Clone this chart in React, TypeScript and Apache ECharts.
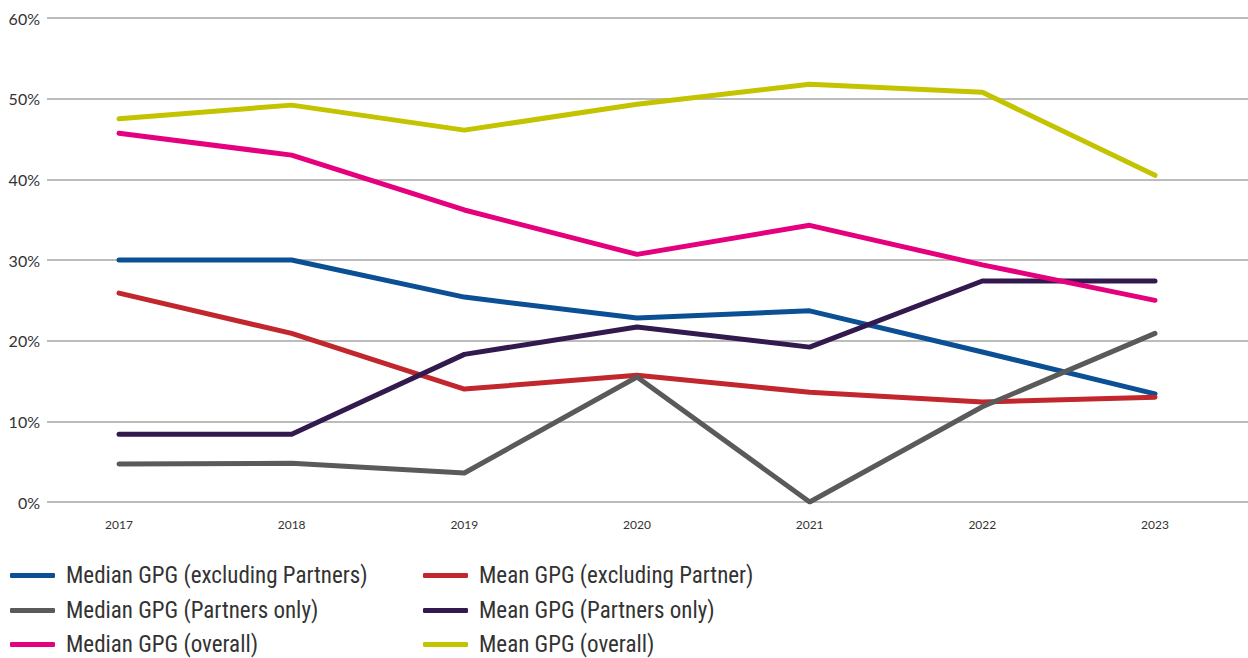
import React, { useEffect, useRef } from "react";
import * as echarts from "echarts";

const years = ["2017", "2018", "2019", "2020", "2021", "2022", "2023"];
const medianExcl = [30.0, 30.0, 25.4, 22.8, 23.7, 18.6, 13.4];
const meanExcl = [25.9, 20.9, 14.0, 15.7, 13.6, 12.4, 13.0];
const medianPartners = [4.7, 4.8, 3.6, 15.5, 0.0, 11.8, 20.9];
const meanPartners = [8.4, 8.4, 18.3, 21.7, 19.2, 27.4, 27.4];
const medianOverall = [45.7, 43.0, 36.2, 30.7, 34.3, 29.4, 25.0];
const meanOverall = [47.5, 49.2, 46.1, 49.3, 51.8, 50.8, 40.5];

const seriesDefs = [
  { name: "Median GPG (excluding Partners)", data: medianExcl, color: "#0b4f94" },
  { name: "Mean GPG (excluding Partner)", data: meanExcl, color: "#c1272d" },
  { name: "Median GPG (Partners only)", data: medianPartners, color: "#5a5a5a" },
  { name: "Mean GPG (Partners only)", data: meanPartners, color: "#321a4f" },
  { name: "Median GPG (overall)", data: medianOverall, color: "#e5007d" },
  { name: "Mean GPG (overall)", data: meanOverall, color: "#c3c300" },
];

const legendFont = "'Liberation Sans Narrow', 'Roboto Condensed', 'Open Sans', sans-serif";
const axisFont = "Lato, 'Noto Sans', sans-serif";

export default function App() {
  const ref = useRef<HTMLDivElement>(null);
  useEffect(() => {
    document.body.style.margin = "0";
    if (!ref.current) return;
    const chart = echarts.init(ref.current, undefined, { renderer: "svg" });
    const rowTops = [564, 599, 633];
    const colLefts = [10, 423];
    const legends = seriesDefs.map((s, i) => ({
      left: colLefts[i % 2],
      top: rowTops[Math.floor(i / 2)],
      itemWidth: 45,
      itemHeight: 5,
      icon: "roundRect",
      selectedMode: false,
      padding: 0,
      data: [s.name],
      textStyle: {
        fontFamily: legendFont,
        fontSize: 23,
        color: "#333333",
        padding: [0, 0, 0, 6],
        lineHeight: 22,
      },
    }));
    chart.setOption({
      animation: false,
      grid: [
        { left: 47, right: 0, top: 18, bottom: 156, containLabel: false },
        { left: 119, right: 93, top: 18, bottom: 156, containLabel: false },
      ],
      legend: legends,
      xAxis: [
        { gridIndex: 0, type: "value", min: 0, max: 1, show: false },
        {
          gridIndex: 1,
          type: "category",
          data: years,
          boundaryGap: false,
          axisLine: { show: false },
          axisTick: { show: false },
          axisLabel: { margin: 16, fontFamily: axisFont, fontSize: 12, color: "#333333" },
          splitLine: { show: false },
        },
      ],
      yAxis: [
        {
          gridIndex: 0,
          type: "value",
          min: 0,
          max: 60,
          interval: 10,
          axisLine: { show: false },
          axisTick: { show: false },
          axisLabel: {
            formatter: "{value}%",
            margin: 7,
            fontFamily: axisFont,
            fontSize: 16,
            color: "#333333",
          },
          splitLine: { lineStyle: { color: "#a6a6a6", width: 1.5 } },
        },
        {
          gridIndex: 1,
          type: "value",
          min: 0,
          max: 60,
          interval: 10,
          show: false,
          splitLine: { show: false },
        },
      ],
      series: seriesDefs.map((s) => ({
        name: s.name,
        type: "line",
        xAxisIndex: 1,
        yAxisIndex: 1,
        data: s.data,
        symbol: "none",
        color: s.color,
        lineStyle: { color: s.color, width: 5, cap: "round", join: "round" },
      })),
    });
    return () => chart.dispose();
  }, []);
  return <div ref={ref} style={{ width: 1248, height: 658 }} />;
}
